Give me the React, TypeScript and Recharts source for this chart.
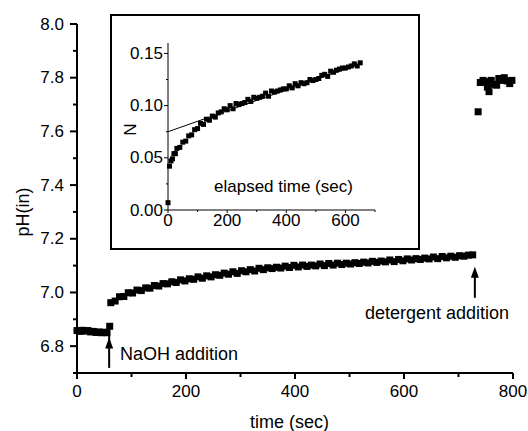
import { ReferenceDot, ReferenceLine, Scatter, ScatterChart, XAxis, YAxis } from "recharts";

const FONT = '"Liberation Sans", Arial, sans-serif';

// main trace: intracellular pH vs time (sec)
const baseline: [number, number][] = [
  [0, 6.858], [5, 6.855], [10, 6.859], [15, 6.856], [20, 6.858], [25, 6.853],
  [30, 6.855], [35, 6.851], [40, 6.853], [45, 6.85], [50, 6.852], [55, 6.85],
  [60, 6.874],
];

const afterNaOH: [number, number][] = [
  [62, 6.962], [70, 6.968], [78, 6.984], [86, 6.985], [94, 6.999], [102, 6.998],
  [110, 7.009], [118, 7.007], [126, 7.017], [134, 7.016], [142, 7.026], [150, 7.024],
  [158, 7.033], [166, 7.032], [174, 7.04], [182, 7.037], [190, 7.047], [198, 7.043],
  [206, 7.051], [214, 7.049], [222, 7.058], [230, 7.053], [238, 7.062], [246, 7.058],
  [254, 7.066], [262, 7.064], [270, 7.072], [278, 7.068], [286, 7.077], [294, 7.071],
  [302, 7.081], [310, 7.077], [318, 7.085], [326, 7.08], [334, 7.09], [342, 7.085],
  [350, 7.092], [358, 7.089], [366, 7.094], [374, 7.091], [382, 7.098], [390, 7.093],
  [398, 7.101], [406, 7.095], [414, 7.102], [422, 7.097], [430, 7.102], [438, 7.099],
  [446, 7.106], [454, 7.1], [462, 7.108], [470, 7.102], [478, 7.109], [486, 7.104],
  [494, 7.109], [502, 7.106], [510, 7.111], [518, 7.108], [526, 7.113], [534, 7.11],
  [542, 7.116], [550, 7.112], [558, 7.117], [566, 7.114], [574, 7.121], [582, 7.115],
  [590, 7.123], [598, 7.118], [606, 7.125], [614, 7.121], [622, 7.126], [630, 7.123],
  [638, 7.128], [646, 7.125], [654, 7.132], [662, 7.126], [670, 7.134], [678, 7.129],
  [686, 7.135], [694, 7.131], [702, 7.137], [710, 7.135], [718, 7.139], [726, 7.14],
];

const afterDetergent: [number, number][] = [
  [736, 7.673], [740, 7.782], [745, 7.79], [750, 7.785], [753, 7.765], [756, 7.748],
  [760, 7.79], [765, 7.775], [770, 7.772], [774, 7.797], [779, 7.79], [784, 7.8],
  [789, 7.788], [794, 7.778], [798, 7.79],
];

// inset: N vs elapsed time (sec)
const insetN: [number, number][] = [
  [0, 0.007], [5, 0.042], [10, 0.047], [15, 0.049], [20, 0.054], [25, 0.054],
  [30, 0.059], [40, 0.06], [50, 0.065], [60, 0.066], [70, 0.071], [80, 0.072],
  [90, 0.077], [100, 0.078], [110, 0.083], [120, 0.082], [130, 0.087], [140, 0.086],
  [150, 0.09], [160, 0.089], [170, 0.093], [180, 0.094], [190, 0.097], [200, 0.096],
  [210, 0.1], [220, 0.097], [230, 0.102], [240, 0.101], [250, 0.102], [260, 0.103],
  [270, 0.106], [280, 0.104], [290, 0.108], [300, 0.107], [310, 0.108], [320, 0.109],
  [330, 0.112], [340, 0.109], [350, 0.114], [360, 0.113], [370, 0.114], [380, 0.115],
  [390, 0.116], [400, 0.116], [410, 0.119], [420, 0.117], [430, 0.121], [440, 0.119],
  [450, 0.122], [460, 0.121], [470, 0.122], [480, 0.125], [490, 0.124], [500, 0.125],
  [510, 0.126], [520, 0.129], [530, 0.13], [540, 0.128], [550, 0.133], [560, 0.132],
  [570, 0.134], [580, 0.135], [590, 0.136], [600, 0.136], [610, 0.137], [620, 0.138],
  [630, 0.14], [640, 0.138], [650, 0.141],
];

const fitLine: [number, number][] = [
  [0, 0.075],
  [650, 0.14],
];

const timeTicks = [0, 100, 200, 300, 400, 500, 600, 700, 800];
const timeLabels = [0, 200, 400, 600, 800];
const phTicks = [6.7, 6.8, 6.9, 7.0, 7.1, 7.2, 7.3, 7.4, 7.5, 7.6, 7.7, 7.8, 7.9, 8.0];
const phLabels = [6.8, 7.0, 7.2, 7.4, 7.6, 7.8, 8.0];
const insetTimeTicks = [0, 100, 200, 300, 400, 500, 600, 700];
const insetTimeLabels = [0, 200, 400, 600];
const nTicks = [0, 0.025, 0.05, 0.075, 0.1, 0.125, 0.15];
const nLabels = [0, 0.05, 0.1, 0.15];

// arrows: [time, pH bottom, pH tip]
const naohArrow = [59, 6.719, 6.832];
const detergentArrow = [730, 6.98, 7.096];

const toPoints = (rows: [number, number][]) => rows.map(([x, y]) => ({ x, y }));
const has = (list: number[], v: number) => list.some((l) => Math.abs(l - v) < 1e-6);

const square = (size: number) => (props: any) => (
  <rect x={props.cx - size / 2} y={props.cy - size / 2} width={size} height={size} fill="#000" />
);

const makeYTick = (labels: number[], major: number, minor: number, gap: number, digits: number, w: number) =>
  (props: any) => {
    const { x, y, payload } = props;
    const isMajor = has(labels, payload.value);
    return (
      <g>
        <line x1={x} x2={x - (isMajor ? major : minor)} y1={y} y2={y} stroke="#000" strokeWidth={w} />
        {isMajor && (
          <text x={x - gap} y={y} textAnchor="end" dominantBaseline="central" fontSize={17} fontFamily={FONT} fill="#000">
            {payload.value.toFixed(digits)}
          </text>
        )}
      </g>
    );
  };

const makeXTick = (labels: number[], major: number, minor: number, gap: number, w: number) =>
  (props: any) => {
    const { x, y, payload } = props;
    const isMajor = has(labels, payload.value);
    return (
      <g>
        <line x1={x} x2={x} y1={y} y2={y + (isMajor ? major : minor)} stroke="#000" strokeWidth={w} />
        {isMajor && (
          <text x={x} y={y + gap} textAnchor="middle" dominantBaseline="central" fontSize={17} fontFamily={FONT} fill="#000">
            {payload.value}
          </text>
        )}
      </g>
    );
  };

const arrowHead = (props: any) => (
  <path d={`M${props.cx},${props.cy} L${props.cx - 4},${props.cy + 11} L${props.cx + 4},${props.cy + 11} Z`} fill="#000" />
);

const textStyle = { position: "absolute" as const, fontFamily: FONT, color: "#000", whiteSpace: "nowrap" as const, lineHeight: 1 };

function Inset() {
  return (
    <div
      style={{
        position: "absolute",
        left: 110,
        top: 14,
        width: 310,
        height: 236,
        border: "2px solid #000",
        background: "#fff",
        boxSizing: "border-box",
      }}
    >
      <ScatterChart width={306} height={232} margin={{ top: 27, right: 43, left: 0, bottom: 0 }}>
        <XAxis
          type="number"
          dataKey="x"
          domain={[0, 700]}
          ticks={insetTimeTicks}
          interval={0}
          height={38}
          tickSize={0}
          tickMargin={0}
          stroke="#000"
          axisLine={{ stroke: "#000", strokeWidth: 1 }}
          tickLine={false}
          tick={makeXTick(insetTimeLabels, 3, 2, 10, 1)}
        />
        <YAxis
          type="number"
          dataKey="y"
          domain={[0, 0.16]}
          ticks={nTicks}
          interval={0}
          width={56}
          tickSize={0}
          tickMargin={0}
          stroke="#000"
          axisLine={{ stroke: "#000", strokeWidth: 1 }}
          tickLine={false}
          tick={makeYTick(nLabels, 4, 2, 5, 2, 1)}
        />
        <Scatter
          data={toPoints(fitLine)}
          line={{ stroke: "#000", strokeWidth: 1 }}
          shape={() => <g />}
          isAnimationActive={false}
        />
        <Scatter data={toPoints(insetN)} shape={square(5)} isAnimationActive={false} />
      </ScatterChart>
      <div style={{ ...textStyle, left: 12, top: 105, fontSize: 17, transform: "rotate(-90deg)" }}>N</div>
      <div style={{ ...textStyle, left: 102, top: 162, fontSize: 17 }}>elapsed time (sec)</div>
    </div>
  );
}

export default function App() {
  return (
    <div style={{ position: "absolute", left: 0, top: 0, width: 528, height: 431, background: "#fff" }}>
      <ScatterChart width={528} height={431} margin={{ top: 24, right: 15, left: 0, bottom: 0 }}>
        <XAxis
          type="number"
          dataKey="x"
          domain={[0, 800]}
          ticks={timeTicks}
          interval={0}
          height={58}
          tickSize={0}
          tickMargin={0}
          stroke="#000"
          axisLine={{ stroke: "#000", strokeWidth: 2 }}
          tickLine={false}
          tick={makeXTick(timeLabels, 6, 4, 18, 2)}
        />
        <YAxis
          type="number"
          dataKey="y"
          domain={[6.7, 8.0]}
          ticks={phTicks}
          interval={0}
          width={77}
          tickSize={0}
          tickMargin={0}
          stroke="#000"
          axisLine={{ stroke: "#000", strokeWidth: 2 }}
          tickLine={false}
          tick={makeYTick(phLabels, 7, 4, 13, 1, 2)}
        />
        <Scatter data={toPoints(baseline)} shape={square(7)} isAnimationActive={false} />
        <Scatter data={toPoints(afterNaOH)} shape={square(7)} isAnimationActive={false} />
        <Scatter data={toPoints(afterDetergent)} shape={square(7)} isAnimationActive={false} />
        <ReferenceLine
          segment={[
            { x: naohArrow[0], y: naohArrow[1] },
            { x: naohArrow[0], y: naohArrow[2] + 0.02 },
          ]}
          stroke="#000"
          strokeWidth={2}
        />
        <ReferenceDot x={naohArrow[0]} y={naohArrow[2]} shape={arrowHead} />
        <ReferenceLine
          segment={[
            { x: detergentArrow[0], y: detergentArrow[1] },
            { x: detergentArrow[0], y: detergentArrow[2] - 0.02 },
          ]}
          stroke="#000"
          strokeWidth={2}
        />
        <ReferenceDot x={detergentArrow[0]} y={detergentArrow[2]} shape={arrowHead} />
      </ScatterChart>
      <Inset />
      <div style={{ ...textStyle, left: 120, top: 345, fontSize: 18 }}>NaOH addition</div>
      <div style={{ ...textStyle, left: 365, top: 304, fontSize: 18 }}>detergent addition</div>
      <div style={{ ...textStyle, left: 250, top: 413, fontSize: 18 }}>time (sec)</div>
      <div style={{ ...textStyle, left: -2, top: 203, fontSize: 18, transform: "rotate(-90deg)" }}>pH(in)</div>
    </div>
  );
}
